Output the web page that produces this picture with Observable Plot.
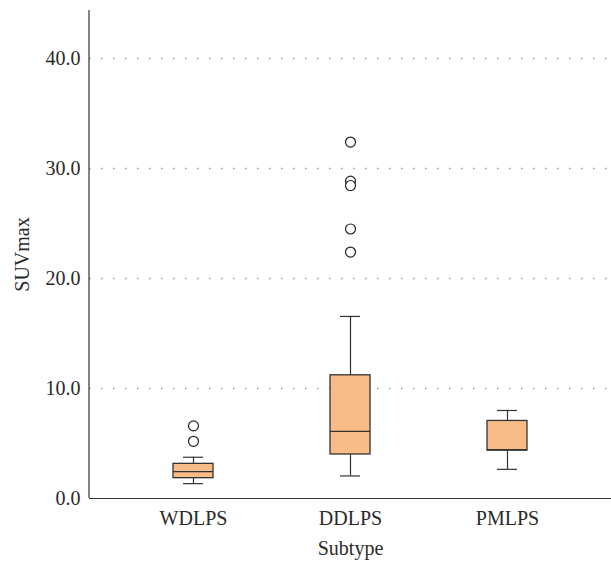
<!DOCTYPE html>
<html>
<head>
<meta charset="utf-8">
<script src="https://cdn.jsdelivr.net/npm/d3@7"></script>
<script src="https://cdn.jsdelivr.net/npm/@observablehq/plot@0.6"></script>
<style>
  html, body { margin: 0; padding: 0; background: #fff; }
  #chart svg { font-family: "Liberation Serif", "DejaVu Serif", serif; }
</style>
</head>
<body>
<div id="chart"></div>
<script>
const subtypes = ["WDLPS", "DDLPS", "PMLPS"];
const whiskerLow = [1.35, 2.05, 2.65];
const q1 = [1.85, 4.0, 4.35];
const median = [2.45, 6.1, 4.45];
const q3 = [3.15, 11.2, 7.05];
const whiskerHigh = [3.75, 16.55, 8.0];
const outlierSubtype = ["WDLPS", "WDLPS", "DDLPS", "DDLPS", "DDLPS", "DDLPS", "DDLPS"];
const outlierValue = [6.6, 5.2, 32.4, 28.85, 28.45, 24.5, 22.4];
const yTicks = [0, 10, 20, 30, 40];
const gridTicks = [10, 20, 30, 40];
const xTitle = "Subtype";
const yTitle = "SUVmax";

const boxes = subtypes.map((s, i) => ({
  subtype: s, low: whiskerLow[i], q1: q1[i], median: median[i], q3: q3[i], high: whiskerHigh[i]
}));
const outliers = outlierSubtype.map((s, i) => ({subtype: s, value: outlierValue[i]}));

const yMax = 44.36;

const leftAxisLine = (index, scales, values, dimensions) => {
  const g = d3.create("svg:g");
  g.append("line")
    .attr("x1", dimensions.marginLeft).attr("x2", dimensions.marginLeft)
    .attr("y1", scales.y(yMax)).attr("y2", scales.y(0))
    .attr("stroke", "#333").attr("stroke-width", 1.2);
  return g.node();
};

const chart = Plot.plot({
  width: 611,
  height: 564,
  marginLeft: 89,
  marginRight: 0,
  marginTop: 10,
  marginBottom: 66,
  style: {fontFamily: "'Liberation Serif', 'DejaVu Serif', serif", fontSize: "20px", color: "#2a2a2a", background: "#fff"},
  x: {
    domain: subtypes,
    paddingInner: 0.746,
    paddingOuter: 0.533,
    align: 0.5,
    label: null,
    tickSize: 0,
    tickPadding: 12
  },
  y: {
    domain: [0, yMax],
    ticks: yTicks,
    tickFormat: d3.format(".1f"),
    tickSize: 0,
    tickPadding: 9,
    label: null
  },
  marks: [
    Plot.ruleY(gridTicks, {stroke: "#999", strokeDasharray: "1.5,10.5", strokeWidth: 1.5}),
    Plot.ruleY([0], {stroke: "#333", strokeWidth: 1.2}),
    leftAxisLine,
    Plot.ruleX(boxes, {x: "subtype", y1: "low", y2: "high", stroke: "#333", strokeWidth: 1.2}),
    Plot.tickY(boxes, {x: "subtype", y: "low", stroke: "#333", strokeWidth: 1.2, insetLeft: 10, insetRight: 10}),
    Plot.tickY(boxes, {x: "subtype", y: "high", stroke: "#333", strokeWidth: 1.2, insetLeft: 10, insetRight: 10}),
    Plot.rectY(boxes, {x: "subtype", y1: "q1", y2: "q3", fill: "#F9BC87", stroke: "#333", strokeWidth: 1.3}),
    Plot.tickY(boxes, {x: "subtype", y: "median", stroke: "#333", strokeWidth: 1.3}),
    Plot.dot(outliers, {x: "subtype", y: "value", r: 5, fill: "#fff", stroke: "#222", strokeWidth: 1.2}),
    Plot.text([yTitle], {frameAnchor: "left", dx: -67, rotate: -90, textAnchor: "middle", lineAnchor: "middle", fontSize: 20, fill: "#2a2a2a"}),
    Plot.text([xTitle], {frameAnchor: "bottom", dy: 56, textAnchor: "middle", lineAnchor: "bottom", fontSize: 20, fill: "#2a2a2a"})
  ]
});
document.getElementById("chart").appendChild(chart);
</script>
</body>
</html>
